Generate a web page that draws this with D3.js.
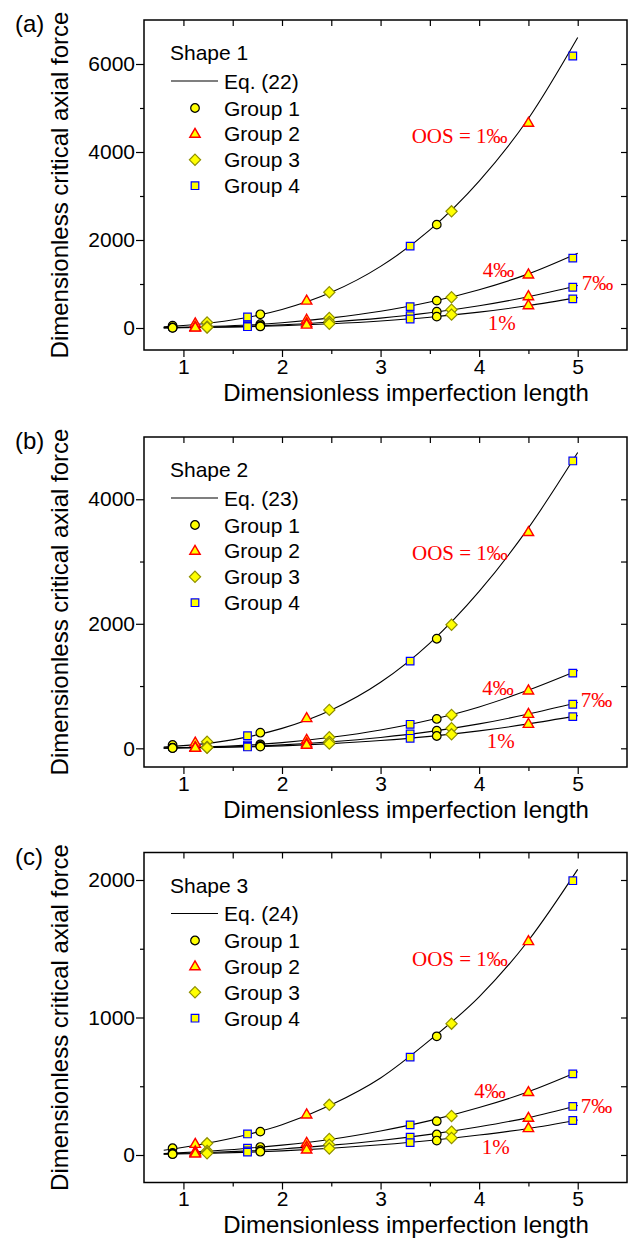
<!DOCTYPE html>
<html>
<head>
<meta charset="utf-8">
<script src="https://cdn.jsdelivr.net/npm/d3@7"></script>
<style>
  body { margin: 0; background: #fff; }
  svg { display: block; }
</style>
</head>
<body>
<svg id="canvas"></svg>
<script>
// x positions of the simulated cases (sorted) and the group each one belongs to
const allX = [0.89, 1.12, 1.24, 1.65, 1.78, 2.25, 2.48, 3.30, 3.57, 3.72, 4.50, 4.95]
const pointGroup = [1, 2, 3, 4, 1, 2, 3, 4, 1, 3, 2, 4]
const groupNames = ['Group 1', 'Group 2', 'Group 3', 'Group 4']
const oosLabels = ['OOS = 1\u2030', '4\u2030', '7\u2030', '1%']

const curveX = [0.8, 1.2, 1.6, 2.0, 2.5, 3.0, 3.5, 4.0, 4.5, 5.0]

// Shape 1 (a)
const s1Oos1 = [52, 105, 125, 250, 311, 620, 812, 1861, 2349, 2652, 4661, 6182]
const s1Oos4 = [12, 25, 32, 70, 85, 185, 228, 486, 623, 698, 1215, 1587]
const s1Oos7 = [7, 14, 18, 40, 50, 110, 140, 281, 372, 417, 721, 926]
const s1Oos10 = [5, 10, 13, 29, 36, 75, 95, 205, 258, 303, 516, 661]
const s1Curve1 = [30, 95, 220, 420, 810, 1400, 2230, 3340, 4760, 6600]
const s1Curve4 = [8, 28, 62, 120, 230, 380, 590, 870, 1230, 1700]
const s1Curve7 = [5, 16, 37, 72, 138, 225, 345, 505, 710, 965]
const s1Curve10 = [3, 11, 26, 50, 97, 160, 245, 360, 510, 690]

// Shape 2 (b)
const s2Oos1 = [53, 90, 106, 203, 251, 483, 617, 1401, 1760, 1985, 3472, 4615]
const s2Oos4 = [9, 19, 24, 53, 64, 135, 177, 386, 472, 536, 928, 1208]
const s2Oos7 = [5, 11, 14, 31, 39, 78, 104, 230, 284, 322, 552, 708]
const s2Oos10 = [4, 8, 10, 22, 28, 56, 75, 161, 198, 225, 391, 509]
const s2Curve1 = [22, 72, 168, 320, 615, 1060, 1690, 2520, 3540, 4750]
const s2Curve4 = [6, 21, 48, 92, 178, 295, 455, 665, 935, 1250]
const s2Curve7 = [4, 13, 29, 55, 106, 175, 268, 392, 550, 735]
const s2Curve10 = [3, 9, 21, 40, 76, 125, 192, 280, 392, 525]

// Shape 3 (c)
const s3Oos1 = [49, 80, 85, 153, 170, 294, 365, 712, 863, 955, 1555, 1995]
const s3Oos4 = [15, 25, 30, 50, 58, 88, 117, 219, 246, 284, 457, 590]
const s3Oos7 = [9, 15, 18, 30, 35, 60, 75, 129, 149, 170, 270, 353]
const s3Oos10 = [6, 10, 12, 21, 24, 39, 47, 90, 105, 124, 195, 251]
const s3Curve1 = [35, 80, 140, 220, 365, 560, 835, 1150, 1560, 2077]
const s3Curve4 = [10, 26, 46, 72, 115, 175, 250, 345, 460, 605]
const s3Curve7 = [7, 16, 28, 44, 72, 106, 150, 205, 272, 360]
const s3Curve10 = [5, 11, 19, 30, 49, 74, 105, 145, 193, 255]

const xTicks = [1, 2, 3, 4, 5]
const xMinor = [1.5, 2.5, 3.5, 4.5]

let width = 637,
height = 1239

let canvas = d3.select('#canvas')
.attr('width', width)
.attr('height', height)

const sans = 'Liberation Sans, Arial, sans-serif'
const serif = 'Liberation Serif, Times New Roman, serif'

const left = 144, right = 627, plotH = 330

let x = d3.scaleLinear().domain([0.6, 5.5]).range([left, right])

let panels = [
    { tag: '(a)', shape: 'Shape 1', eq: 'Eq. (22)', top: 20, yDom: [-500, 7000],
      major: [0, 2000, 4000, 6000], minorStep: 1000,
      pts: [s1Oos1, s1Oos4, s1Oos7, s1Oos10], curves: [s1Curve1, s1Curve4, s1Curve7, s1Curve10],
      lab: [[411.7, 123], [482.7, 257], [581.7, 270], [487.7, 310]] },
    { tag: '(b)', shape: 'Shape 2', eq: 'Eq. (23)', top: 437, yDom: [-300, 5000],
      major: [0, 2000, 4000], minorStep: 1000,
      pts: [s2Oos1, s2Oos4, s2Oos7, s2Oos10], curves: [s2Curve1, s2Curve4, s2Curve7, s2Curve10],
      lab: [[412, 122.5], [482.3, 257.5], [580.7, 270], [486.7, 311]] },
    { tag: '(c)', shape: 'Shape 3', eq: 'Eq. (24)', top: 852.5, yDom: [-200, 2200],
      major: [0, 1000, 2000], minorStep: 500,
      pts: [s3Oos1, s3Oos4, s3Oos7, s3Oos10], curves: [s3Curve1, s3Curve4, s3Curve7, s3Curve10],
      lab: [[412, 113.3], [474.3, 245.7], [580.7, 260.7], [481.7, 301.7]] }
]

// marker shapes
let markerPath = (g) => {
    if (g === 1) return d3.symbol().type(d3.symbolCircle).size(58)()
    if (g === 2) return 'M0,-5.6L5.2,3.4L-5.2,3.4Z'
    if (g === 3) return 'M0,-5.6L5.6,0L0,5.6L-5.6,0Z'
    return 'M-3.8,-3.8L3.8,-3.8L3.8,3.8L-3.8,3.8Z'
}
const markerStroke = { 1: '#000', 2: '#ff0000', 3: '#8f8f00', 4: '#0000ff' }

let styleAxis = (g, size) => {
    g.select('.domain').remove()
    g.selectAll('line').attr('stroke', '#000').attr('stroke-width', 1.2)
    g.selectAll('text').attr('font-family', sans).attr('font-size', size).attr('fill', '#000')
}

let drawPanel = (p) => {
    let bottom = p.top + plotH
    let y = d3.scaleLinear().domain(p.yDom).range([bottom, p.top])
    let g = canvas.append('g')

    let minor = d3.range(Math.ceil(p.yDom[0] / p.minorStep) * p.minorStep, p.yDom[1], p.minorStep)
        .filter(v => !p.major.includes(v) && v > p.yDom[0])
    let allY = minor.concat(p.major)

    // left axis
    g.append('g').attr('transform', `translate(${left},0)`)
        .call(d3.axisLeft(y).tickValues(p.major).tickSize(8).tickPadding(1).tickFormat(d3.format('d')))
        .call(a => styleAxis(a, 21))
    g.append('g').attr('transform', `translate(${left},0)`)
        .call(d3.axisLeft(y).tickValues(minor).tickSize(4).tickFormat(''))
        .call(a => styleAxis(a, 21))
    // right axis (inward ticks)
    g.append('g').attr('transform', `translate(${right},0)`)
        .call(d3.axisRight(y).tickValues(allY).tickSize(-6).tickFormat(''))
        .call(a => styleAxis(a, 21))
    // bottom axis
    g.append('g').attr('transform', `translate(0,${bottom})`)
        .call(d3.axisBottom(x).tickValues(xTicks).tickSize(7).tickPadding(2).tickFormat(d3.format('d')))
        .call(a => styleAxis(a, 21))
    g.append('g').attr('transform', `translate(0,${bottom})`)
        .call(d3.axisBottom(x).tickValues(xMinor).tickSize(4).tickFormat(''))
        .call(a => styleAxis(a, 21))
    // top axis (inward ticks)
    g.append('g').attr('transform', `translate(0,${p.top})`)
        .call(d3.axisTop(x).tickValues(xTicks.concat(xMinor)).tickSize(-6).tickFormat(''))
        .call(a => styleAxis(a, 21))

    // frame
    g.append('rect')
        .attr('x', left).attr('y', p.top)
        .attr('width', right - left).attr('height', plotH)
        .attr('fill', 'none').attr('stroke', '#000').attr('stroke-width', 1.5)

    // equation curves
    let line = d3.line()
        .x(d => x(d[0]))
        .y(d => y(d[1]))
        .curve(d3.curveMonotoneX)
    p.curves.forEach(c => {
        g.append('path')
            .datum(curveX.map((v, i) => [v, c[i]]))
            .attr('d', line)
            .attr('fill', 'none')
            .attr('stroke', '#000')
            .attr('stroke-width', 1.1)
    })

    // markers, group by group
    ;[1, 2, 3, 4].forEach(grp => {
        p.pts.forEach(series => {
            let data = allX.map((v, i) => ({ x: v, y: series[i], g: pointGroup[i] }))
                .filter(d => d.g === grp)
            g.selectAll(null)
                .data(data)
                .enter().append('path')
                .attr('transform', d => `translate(${x(d.x)},${y(d.y)})`)
                .attr('d', d => markerPath(d.g))
                .attr('fill', '#ffff00')
                .attr('stroke', d => markerStroke[d.g])
                .attr('stroke-width', d => d.g === 2 ? 1.4 : 1.2)
        })
    })

    // OOS labels
    oosLabels.forEach((t, i) => {
        g.append('text')
            .attr('x', p.lab[i][0]).attr('y', p.top + p.lab[i][1])
            .attr('font-family', serif).attr('font-size', 21)
            .attr('fill', '#ff0000')
            .text(t)
    })

    // legend
    g.append('text').attr('x', 170).attr('y', p.top + 40)
        .attr('font-family', sans).attr('font-size', 21).text(p.shape)
    g.append('line')
        .attr('x1', 171).attr('x2', 218)
        .attr('y1', p.top + 61).attr('y2', p.top + 61)
        .attr('stroke', '#000').attr('stroke-width', 1.1)
    g.append('text').attr('x', 224).attr('y', p.top + 68.5)
        .attr('font-family', sans).attr('font-size', 21).text(p.eq)
    groupNames.forEach((name, i) => {
        let ry = p.top + 88 + i * 25.9
        g.append('path')
            .attr('transform', `translate(195,${ry})`)
            .attr('d', markerPath(i + 1))
            .attr('fill', '#ffff00')
            .attr('stroke', markerStroke[i + 1])
            .attr('stroke-width', i === 1 ? 1.4 : 1.2)
        g.append('text').attr('x', 224).attr('y', ry + 7.5)
            .attr('font-family', sans).attr('font-size', 21).text(name)
    })

    // titles
    g.append('text').attr('x', 15).attr('y', p.top + 12)
        .attr('font-family', sans).attr('font-size', 24).text(p.tag)
    g.append('text')
        .attr('transform', `translate(68,${p.top + plotH / 2}) rotate(-90)`)
        .attr('text-anchor', 'middle')
        .attr('font-family', sans).attr('font-size', 24)
        .text('Dimensionless critical axial force')
    g.append('text')
        .attr('x', 406).attr('y', bottom + 50.5)
        .attr('text-anchor', 'middle')
        .attr('font-family', sans).attr('font-size', 24)
        .text('Dimensionless imperfection length')
}

panels.forEach(drawPanel)
</script>
</body>
</html>
